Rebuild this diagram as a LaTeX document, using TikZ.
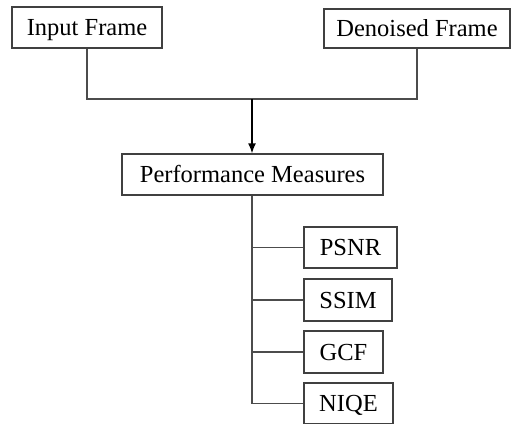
\documentclass[tikz,border=0pt]{standalone}
\usepackage{fontspec}
\setmainfont{Liberation Serif}
\usetikzlibrary{arrows.meta}
\begin{document}
\begin{tikzpicture}[x=1pt,y=-1pt,
  box/.style={draw=black!75, line width=1.4pt, fill=white, inner sep=0pt,
    text height=16pt, text depth=-1pt,
    font=\fontsize{24.5}{28}\selectfont, text=black},
  link/.style={draw=black!70, line width=1.4pt},
  arr/.style={draw=black, line width=1.4pt, -{Latex[length=10pt,width=8pt]}}]
  \useasboundingbox[fill=white] (0,0) rectangle (511,423);

  % source frames
  \node[box, minimum width=150pt, minimum height=41pt] (inp) at (87,27.5) {Input Frame};
  \node[box, minimum width=186pt, minimum height=39pt] (den) at (417,28.5) {Denoised Frame};

  % evaluation block
  \node[box, minimum width=261pt, minimum height=41pt] (perf) at (252.5,174.5) {Performance Measures};

  % individual measures
  \node[box, minimum width=93pt, minimum height=41pt] (psnr) at (350.5,247.5) {PSNR};
  \node[box, minimum width=88pt, minimum height=42pt] (ssim) at (348,300) {SSIM};
  \node[box, minimum width=79pt, minimum height=42pt] (gcf) at (343.5,352) {GCF};
  \node[box, minimum width=89pt, minimum height=41pt] (niqe) at (348.5,403.5) {NIQE};

  % merge of the two frames
  \coordinate (join) at (252,99);
  \draw[link] (inp.south) |- (join) -| (den.south);
  \draw[arr] (join) -- (perf.north -| join);

  % trunk and branches to the measures
  \coordinate (trunk) at (perf.south -| join);
  \draw[link] (trunk) |- (niqe.west);
  \draw[link] (trunk |- psnr.west) -- (psnr.west);
  \draw[link] (trunk |- ssim.west) -- (ssim.west);
  \draw[link] (trunk |- gcf.west) -- (gcf.west);
\end{tikzpicture}
\end{document}
